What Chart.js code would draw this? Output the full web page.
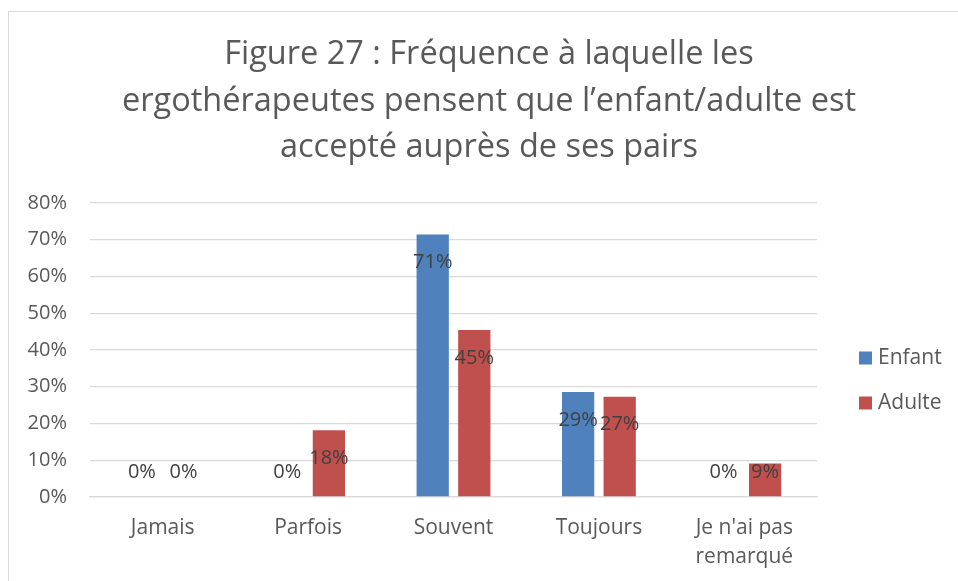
<!DOCTYPE html>
<html>
<head>
<meta charset="utf-8">
<script src="https://cdn.jsdelivr.net/npm/chart.js@4"></script>
<style>
  html, body { margin: 0; padding: 0; background: #fff; overflow: hidden; }
  #frame { position: absolute; left: 8px; top: 11px; width: 1000px; height: 700px; border: 1.5px solid #d9d9d9; }
  #wrap { position: absolute; left: 0; top: 0; width: 958px; height: 581px; }
</style>
</head>
<body>
<div id="frame"></div>
<div id="wrap"><canvas id="chart"></canvas></div>
<script>
    const titleLines = [
      "Figure 27 : Fréquence à laquelle les",
      "ergothérapeutes pensent que l’enfant/adulte est",
      "accepté auprès de ses pairs"
    ];
    const categories = ["Jamais", "Parfois", "Souvent", "Toujours", ["Je n'ai pas", "remarqué"]];
    const enfant = [0, 0, 71.43, 28.57, 0];
    const adulte = [0, 18.18, 45.45, 27.27, 9.09];
    const seriesNames = ["Enfant", "Adulte"];
    const seriesColors = ["#4f81bd", "#c0504d"];

    const FONT = "'Open Sans', sans-serif";

    // value labels near the top of each bar, kept above the baseline
    const valueLabels = {
      id: 'valueLabels',
      afterDatasetsDraw(chart) {
        const { ctx, scales: { y } } = chart;
        const base = y.getPixelForValue(0);
        ctx.save();
        ctx.font = `20px ${FONT}`;
        ctx.fillStyle = '#404040';
        ctx.textAlign = 'center';
        ctx.textBaseline = 'middle';
        chart.data.datasets.forEach((ds, i) => {
          chart.getDatasetMeta(i).data.forEach((bar, j) => {
            const yy = Math.min(bar.y + 28, base - 25);
            ctx.fillText(Math.round(ds.data[j]) + '%', bar.x, yy);
          });
        });
        ctx.restore();
      }
    };

    // title and legend, drawn where the original has them
    const decorations = {
      id: 'decorations',
      afterDraw(chart) {
        const { ctx } = chart;
        ctx.save();
        ctx.font = `32.5px ${FONT}`;
        ctx.fillStyle = '#595959';
        ctx.textAlign = 'center';
        ctx.textBaseline = 'alphabetic';
        titleLines.forEach((t, i) => ctx.fillText(t, 489, 64 + i * 46.7));

        ctx.font = `21px ${FONT}`;
        ctx.textAlign = 'left';
        ctx.textBaseline = 'middle';
        seriesNames.forEach((name, i) => {
          const cy = 358 + i * 45;
          ctx.fillStyle = seriesColors[i];
          ctx.fillRect(859, cy - 6.5, 13, 13);
          ctx.fillStyle = '#595959';
          ctx.fillText(name, 878, cy);
        });
        ctx.restore();
      }
    };

    const ctx = document.getElementById('chart').getContext('2d');
    const chart = new Chart(ctx, {
      type: 'bar',
      data: {
        labels: categories,
        datasets: [
          { label: seriesNames[0], data: enfant, backgroundColor: seriesColors[0] },
          { label: seriesNames[1], data: adulte, backgroundColor: seriesColors[1] }
        ]
      },
      options: {
        responsive: true,
        maintainAspectRatio: false,
        animation: false,
        categoryPercentage: 0.572,
        barPercentage: 0.776,
        layout: { padding: { left: 20, right: 141, top: 203, bottom: 0 } },
        plugins: {
          legend: { display: false },
          title: { display: false },
          tooltip: { enabled: false }
        },
        scales: {
          x: {
            grid: { display: false, drawTicks: false },
            border: { color: '#d9d9d9', width: 1.3 },
            ticks: {
              color: '#595959',
              font: { family: FONT, size: 21, lineHeight: 1.41 },
              padding: 16,
              maxRotation: 0,
              autoSkip: false
            },
            afterFit(scale) { scale.height = 84; }
          },
          y: {
            min: 0,
            max: 80,
            grid: { color: '#d9d9d9', lineWidth: 1.3, drawTicks: false },
            border: { display: false },
            ticks: {
              stepSize: 10,
              color: '#595959',
              font: { family: FONT, size: 20 },
              padding: 23,
              callback: v => v + '%'
            },
            afterFit(scale) { scale.width = 70; }
          }
        }
      },
      plugins: [valueLabels, decorations]
    });
</script>
</body>
</html>
